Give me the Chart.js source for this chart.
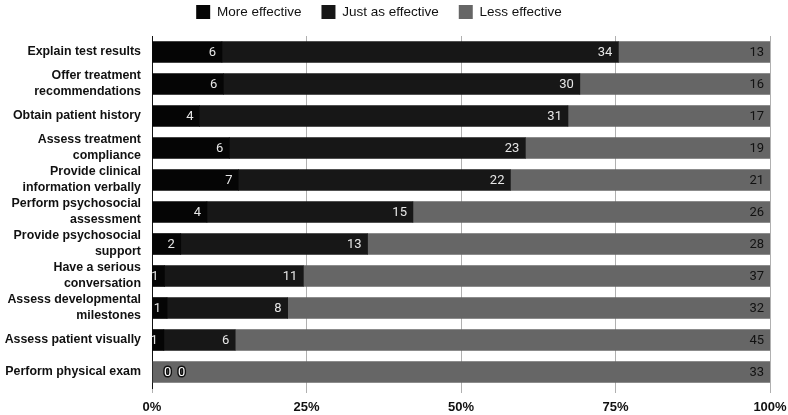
<!DOCTYPE html>
<html>
<head>
<meta charset="utf-8">
<script src="https://cdn.jsdelivr.net/npm/chart.js@4"></script>
<style>
  html, body { margin: 0; padding: 0; background: #fff; }
  #wrap { width: 788px; height: 415px; }
</style>
</head>
<body>
<div id="wrap"><canvas id="effChart"></canvas></div>
<script>
const categories = [
    'Explain test results',
    ['Offer treatment', 'recommendations'],
    'Obtain patient history',
    ['Assess treatment', 'compliance'],
    ['Provide clinical', 'information verbally'],
    ['Perform psychosocial', 'assessment'],
    ['Provide psychosocial', 'support'],
    ['Have a serious', 'conversation'],
    ['Assess developmental', 'milestones'],
    'Assess patient visually',
    'Perform physical exam'
];
const moreEffective = [6, 6, 4, 6, 7, 4, 2, 1, 1, 1, 0];
const justAsEffective = [34, 30, 31, 23, 22, 15, 13, 11, 8, 6, 0];
const lessEffective = [13, 16, 17, 19, 21, 26, 28, 37, 32, 45, 33];
const xTickLabels = ['0%', '25%', '50%', '75%', '100%'];

const counts = [moreEffective, justAsEffective, lessEffective];
const totals = categories.map((c, i) => moreEffective[i] + justAsEffective[i] + lessEffective[i]);
const pct = arr => arr.map((v, i) => v / totals[i] * 100);

// draws the raw counts at the end of each segment
const valueLabels = {
    id: 'valueLabels',
    afterDatasetsDraw(chart) {
        const ctx = chart.ctx;
        ctx.save();
        ctx.font = '13px Roboto';
        ctx.textBaseline = 'middle';
        chart.data.datasets.forEach((ds, di) => {
            const meta = chart.getDatasetMeta(di);
            meta.data.forEach((bar, i) => {
                const v = counts[di][i];
                if (v === 0) {
                    ctx.textAlign = 'left';
                    ctx.lineWidth = 3;
                    ctx.strokeStyle = '#111';
                    ctx.fillStyle = '#fff';
                    const x = chart.chartArea.left + 12 + di * 14;
                    ctx.strokeText(String(v), x, bar.y + 1);
                    ctx.fillText(String(v), x, bar.y + 1);
                    return;
                }
                ctx.textAlign = 'right';
                ctx.fillStyle = di === 2 ? '#111' : '#e6e6e6';
                ctx.fillText(String(v), bar.x - 6, bar.y + 1);
            });
        });
        ctx.restore();
    }
};

// keep the wide gaps between legend items but pull the legend up to the top edge
const tightLegend = {
    id: 'tightLegend',
    afterInit(chart) {
        const lg = chart.legend;
        const fit = lg.fit, draw = lg.draw;
        lg.fit = function () { fit.call(this); this.height = 36; };
        lg.draw = function () {
            this.ctx.save();
            this.ctx.translate(-15, -15);
            draw.call(this);
            this.ctx.restore();
        };
    }
};

const ctx1 = document.getElementById('effChart').getContext('2d');
const effChart = new Chart(ctx1, {
    type: 'bar',
    data: {
        labels: categories,
        datasets: [{
            label: 'More effective',
            data: pct(moreEffective),
            backgroundColor: '#050505'
        }, {
            label: 'Just as effective',
            data: pct(justAsEffective),
            backgroundColor: '#171717'
        }, {
            label: 'Less effective',
            data: pct(lessEffective),
            backgroundColor: '#666666'
        }]
    },
    options: {
        indexAxis: 'y',
        responsive: true,
        maintainAspectRatio: false,
        animation: false,
        layout: { padding: 0 },
        datasets: {
            bar: { barThickness: 21 }
        },
        plugins: {
            tooltip: { enabled: false },
            legend: {
                position: 'top',
                labels: {
                    boxWidth: 14,
                    boxHeight: 14,
                    padding: 20,
                    color: '#111',
                    font: { family: 'Liberation Sans', size: 13.5 }
                }
            }
        },
        scales: {
            x: {
                stacked: true,
                min: 0,
                max: 100,
                afterBuildTicks: s => { s.ticks = [0, 25, 50, 75, 100].map(v => ({ value: v })); },
                afterFit: s => { s.height = 27; s.paddingRight = 18; },
                grid: { color: '#b0b0b0', tickLength: 5, drawTicks: true },
                border: { display: false },
                ticks: {
                    callback: (v, i) => xTickLabels[i],
                    color: '#111',
                    padding: 7,
                    maxRotation: 0,
                    font: { family: 'Liberation Sans', size: 13, weight: 'bold' }
                }
            },
            y: {
                stacked: true,
                afterFit: s => { s.width = 152; },
                grid: { display: false, drawTicks: false },
                border: { display: true, color: '#111', width: 1 },
                ticks: {
                    color: '#111',
                    padding: 11,
                    autoSkip: false,
                    font: { family: 'Liberation Sans', size: 12.4, weight: 'bold', lineHeight: 1.3 }
                }
            }
        }
    },
    plugins: [valueLabels, tightLegend]
});
</script>
</body>
</html>
